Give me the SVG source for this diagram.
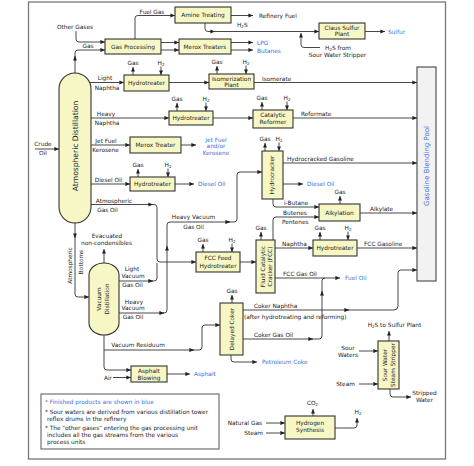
<svg xmlns="http://www.w3.org/2000/svg" width="474" height="466" viewBox="0 0 474 466">
<style>
text{font-family:"DejaVu Sans","Liberation Sans",sans-serif;font-size:5.8px;fill:#222}
.m{text-anchor:middle}
.e{text-anchor:end}
.bl{fill:#3b72d9}
.b{fill:#f7f7c6;stroke:#333;stroke-width:1.1}
.c{fill:none;stroke:#333;stroke-width:.9;marker-end:url(#ah)}
.n{fill:none;stroke:#333;stroke-width:.9}
.s{font-size:4px}
</style>
<defs>
<marker id="ah" viewBox="0 0 10 10" refX="10" refY="5" markerWidth="4.6" markerHeight="4.6" markerUnits="userSpaceOnUse" orient="auto"><path d="M0,0.5 L10,5 L0,9.5 z" fill="#222"/></marker>
</defs>
<rect width="474" height="466" fill="#fff"/>
<rect x="28.5" y="2" width="417" height="457" fill="none" stroke="#777" stroke-width="1.3"/>

<g id="connectors">
<path class="c" d="M35,149 H59"/>
<path class="c" d="M76,31 V39 Q76,42 79,42 H105"/>
<path class="c" d="M75,73 V56"/>
<path class="c" d="M75,58 V53 Q75,50 78,50 H105"/>
<path class="c" d="M135,39 V18 Q135,15.5 138,15.5 H175"/>
<path class="c" d="M161,42.5 H179"/>
<path class="c" d="M161,50 H179"/>
<path class="c" d="M231,15.5 H253"/>
<path class="c" d="M205,23 V28.5 Q205,31.5 208,31.5 H215"/>
<path class="c" d="M213,31.5 H319"/>
<path class="c" d="M320,47.5 H304 Q301,47.5 301,44.5 V33"/>
<path class="c" d="M365,31.5 H385"/>
<path class="c" d="M231,42.5 H253"/>
<path class="c" d="M231,50 H253"/>
<path class="c" d="M90,82.5 H124"/>
<path class="c" d="M169,82.5 H209"/>
<path class="c" d="M254,82.5 H417"/>
<path class="c" d="M91,118 H169"/>
<path class="c" d="M213,118 H253"/>
<path class="c" d="M293,118 H417"/>
<path class="c" d="M91,145 H130"/>
<path class="c" d="M181,145 H196"/>
<path class="c" d="M91,184 H130"/>
<path class="c" d="M175,184 H194"/>
<path class="c" d="M91,204.5 H153"/>
<path class="c" d="M151,204.5 H154 Q157,204.5 157,207.5 V259 Q157,262 160,262 H196"/>
<path class="c" d="M119,281 H153"/>
<path class="n" d="M151,281 H154 Q157,281 157,278 V263"/>
<path class="c" d="M119,313 H164"/>
<path class="c" d="M162,313 H164 Q167,313 167,310 V246"/>
<path class="c" d="M167,248 V225 Q167,222 170,222 H230"/>
<path class="c" d="M228,222 H234 Q237,222 237,219 V175 Q237,172 240,172 H262"/>
<path class="c" d="M75,223 V238"/>
<path class="c" d="M75,236 V294 Q75,297 78,297 H89"/>
<path class="c" d="M104,263 V249"/>
<path class="c" d="M104,335 V350 H194"/>
<path class="c" d="M192,350 H199 Q202,350 202,347 V328 Q202,325 205,325 H220"/>
<path class="c" d="M104,350 V367 Q104,370 107,370 H131"/>
<path class="c" d="M113,377.5 H131"/>
<path class="c" d="M167,374 H190"/>
<path class="c" d="M240,262 H256"/>
<path class="c" d="M283,163 H417"/>
<path class="c" d="M283,184 H303"/>
<path class="c" d="M273,199 V204 Q273,207 276,207 H319"/>
<path class="c" d="M273,240 V220 Q273,217 276,217 H319"/>
<path class="c" d="M360,213 H417"/>
<path class="c" d="M275,248 H313"/>
<path class="c" d="M357,248 H417"/>
<path class="c" d="M275,278 H340"/>
<path class="c" d="M243,310 H349"/>
<path class="c" d="M347,310 H394 Q398,310 398,306 V273 Q398,270 401,270 H417"/>
<path class="c" d="M243,339 H313"/>
<path class="c" d="M311,339 H319 Q322,339 322,336 V291"/>
<path class="n" d="M322,293 V281 Q322,278 325,278"/>
<path class="c" d="M231,355 V359 Q231,362 234,362 H257"/>
<path class="c" d="M359,351 H378"/>
<path class="c" d="M359,384 H378"/>
<path class="c" d="M389,341 V331"/>
<path class="c" d="M390,389 V394 Q390,397 393,397 H411"/>
<path class="c" d="M266,423 H285"/>
<path class="c" d="M266,433 H285"/>
<path class="c" d="M313,416 V409"/>
<path class="c" d="M335,428 H354 Q357,428 357,425 V418"/>
<!-- gas / H2 stubs -->
<path class="c" d="M133,75 V67"/><path class="c" d="M161,66.5 V75"/>
<path class="c" d="M217,74 V66"/><path class="c" d="M246,65.5 V74"/>
<path class="c" d="M177,111 V103"/><path class="c" d="M206,102.5 V111"/>
<path class="c" d="M262,110 V102"/><path class="c" d="M287,101.5 V110"/>
<path class="c" d="M138,177 V169"/><path class="c" d="M168,168.5 V177"/>
<path class="c" d="M265,151 V143"/><path class="c" d="M279,142.5 V151"/>
<path class="c" d="M203,252 V244"/><path class="c" d="M232,243.5 V252"/>
<path class="c" d="M261,240 V232"/>
<path class="c" d="M340,204 V196"/>
<path class="c" d="M320,240 V232"/><path class="c" d="M348,231.5 V240"/>
<path class="c" d="M232,303 V295"/>

<text class="m" x="133" y="64.5">Gas</text><text class="m" x="161" y="64.5">H<tspan class="s" dy="1.2">2</tspan></text>
<text class="m" x="217" y="63.5">Gas</text><text class="m" x="246" y="63.5">H<tspan class="s" dy="1.2">2</tspan></text>
<text class="m" x="177" y="100.5">Gas</text><text class="m" x="206" y="100.5">H<tspan class="s" dy="1.2">2</tspan></text>
<text class="m" x="262" y="99.5">Gas</text><text class="m" x="287" y="99.5">H<tspan class="s" dy="1.2">2</tspan></text>
<text class="m" x="138" y="166.5">Gas</text><text class="m" x="168" y="166.5">H<tspan class="s" dy="1.2">2</tspan></text>
<text class="m" x="265" y="140.5">Gas</text><text class="m" x="279" y="140.5">H<tspan class="s" dy="1.2">2</tspan></text>
<text class="m" x="203" y="241.5">Gas</text><text class="m" x="232" y="241.5">H<tspan class="s" dy="1.2">2</tspan></text>
<text class="m" x="261" y="229.5">Gas</text>
<text class="m" x="340" y="194">Gas</text>
<text class="m" x="320" y="229.5">Gas</text><text class="m" x="348" y="229.5">H<tspan class="s" dy="1.2">2</tspan></text>
<text class="m" x="232" y="292.5">Gas</text>

<text class="m" x="43" y="146">Crude</text>
<text class="m" x="43" y="155">Oil</text>
<text class="m" x="75" y="29">Other Gases</text>
<text class="m" x="88" y="48">Gas</text>
<text class="m" x="152" y="14">Fuel Gas</text>
<text x="259" y="18">Refinery Fuel</text>
<text x="237" y="27">H<tspan class="s" dy="1.2">2</tspan><tspan dy="-1.2">S</tspan></text>
<text class="m" x="338" y="50">H<tspan class="s" dy="1.2">2</tspan><tspan dy="-1.2">S from</tspan></text>
<text class="m" x="337.5" y="56.5">Sour Water Stripper</text>
<text class="bl" x="388" y="33.5">Sulfur</text>
<text class="bl" x="257" y="44.5">LPG</text>
<text class="bl" x="257" y="52.5">Butanes</text>
<text class="m" x="105" y="79.5">Light</text>
<text class="m" x="107" y="90">Naphtha</text>
<text x="262" y="81">Isomerate</text>
<text class="m" x="106" y="116">Heavy</text>
<text class="m" x="107" y="125">Naphtha</text>
<text x="301" y="116">Reformate</text>
<text class="m" x="106" y="143">Jet Fuel</text>
<text class="m" x="105.5" y="152">Kerosene</text>
<text class="m bl" x="216" y="141.5">Jet Fuel</text>
<text class="m bl" x="216" y="148">and/or</text>
<text class="m bl" x="216" y="154.5">Kerosene</text>
<text class="m" x="108.5" y="182">Diesel Oil</text>
<text class="bl" x="198" y="186">Diesel Oil</text>
<text class="m" x="114" y="203">Atmospheric</text>
<text class="m" x="107.5" y="212">Gas Oil</text>
<text class="m" x="193.5" y="219">Heavy Vacuum</text>
<text class="m" x="193.5" y="228.5">Gas Oil</text>
<text x="287" y="161">Hydrocracked Gasoline</text>
<text class="bl" x="307" y="186">Diesel Oil</text>
<text x="284" y="205">i-Butane</text>
<text x="283" y="215">Butenes</text>
<text x="282" y="223.5">Pentenes</text>
<text x="370" y="211">Alkylate</text>
<text x="282" y="246">Naphtha</text>
<text x="364" y="245.5">FCC Gasoline</text>
<text x="283" y="276">FCC Gas Oil</text>
<text class="bl" x="345" y="280">Fuel Oil</text>
<text x="254" y="308">Coker Naphtha</text>
<text x="244" y="319">(after hydrotreating and reforming)</text>
<text x="254" y="336.5">Coker Gas Oil</text>
<text class="bl" x="262" y="364">Petroleum Coke</text>
<text class="m" x="107" y="238">Evacuated</text>
<text class="m" x="106.5" y="245">non-condensibles</text>
<text class="m" x="132" y="271.3">Light</text>
<text class="m" x="133" y="277.5">Vacuum</text>
<text class="m" x="132.5" y="287">Gas Oil</text>
<text class="m" x="134" y="303.7">Heavy</text>
<text class="m" x="133" y="310.3">Vacuum</text>
<text class="m" x="133" y="319.3">Gas Oil</text>
<text class="m" transform="translate(72,265.5) rotate(-90)">Atmospheric</text>
<text class="m" transform="translate(83,262) rotate(-90)">Bottoms</text>
<text class="m" x="138" y="347">Vacuum Residuum</text>
<text x="104" y="379.5">Air</text>
<text class="bl" x="194" y="376">Asphalt</text>
<text class="m" x="348" y="350">Sour</text>
<text class="m" x="348" y="356.5">Waters</text>
<text class="m" x="345.5" y="386">Steam</text>
<text class="m" x="394.5" y="327">H<tspan class="s" dy="1.2">2</tspan><tspan dy="-1.2">S to Sulfur Plant</tspan></text>
<text class="m" x="424.5" y="395">Stripped</text>
<text class="m" x="424.5" y="402">Water</text>
<text class="e" x="262" y="425">Natural Gas</text>
<text class="e" x="263" y="435">Steam</text>
<text class="m" x="312.5" y="405">CO<tspan class="s" dy="1.2">2</tspan></text>
<text class="m" x="358" y="414">H<tspan class="s" dy="1.2">2</tspan></text>
</g>

<g id="amine"><rect class="b" x="175" y="7" width="56" height="16"/><text class="m" x="203" y="17">Amine Treating</text></g>
<g id="gasproc"><rect class="b" x="105" y="39" width="56" height="15"/><text class="m" x="133" y="48.5">Gas Processing</text></g>
<g id="merox1"><rect class="b" x="179" y="39" width="52" height="15"/><text class="m" x="205" y="48.5">Merox Treaters</text></g>
<g id="claus"><rect class="b" x="319" y="23" width="46" height="16"/><text class="m" x="342" y="29.5">Claus Sulfur</text><text class="m" x="342" y="36">Plant</text></g>
<g id="ht1"><rect class="b" x="124" y="75" width="45" height="16"/><text class="m" x="146.5" y="85">Hydrotreater</text></g>
<g id="isom"><rect class="b" x="209" y="74" width="45" height="15"/><text class="m" x="231.5" y="80.5">Isomerization</text><text class="m" x="231.5" y="87">Plant</text></g>
<g id="ht2"><rect class="b" x="169" y="111" width="44" height="14"/><text class="m" x="191" y="120">Hydrotreater</text></g>
<g id="reformer"><rect class="b" x="253" y="110" width="40" height="18"/><text class="m" x="273" y="117">Catalytic</text><text class="m" x="273" y="124">Reformer</text></g>
<g id="merox2"><rect class="b" x="130" y="137" width="51" height="16"/><text class="m" x="155.5" y="147">Merox Treater</text></g>
<g id="ht3"><rect class="b" x="130" y="177" width="45" height="14"/><text class="m" x="152.5" y="186">Hydrotreater</text></g>
<g id="atmdist"><rect class="b" x="59" y="73" width="32" height="150" rx="16" ry="16"/><text class="m" style="font-size:7.6px" transform="translate(78,146) rotate(-90)">Atmospheric Distillation</text></g>
<g id="vacdist"><rect class="b" x="89" y="263" width="30" height="72" rx="15" ry="12"/><text class="m" transform="translate(101,299) rotate(-90)">Vacuum</text><text class="m" transform="translate(108.5,299) rotate(-90)">Distillation</text></g>
<g id="fccfeed"><rect class="b" x="196" y="252" width="44" height="20"/><text class="m" x="218" y="260">FCC Feed</text><text class="m" x="218" y="268">Hydrotreater</text></g>
<g id="fcc"><rect class="b" x="256" y="240" width="19" height="53"/><text class="m" transform="translate(265,266.5) rotate(-90)">Fluid Catalytic</text><text class="m" transform="translate(272,266.5) rotate(-90)">Cracker (FCC)</text></g>
<g id="hydrocracker"><rect class="b" x="262" y="151" width="21" height="48"/><text class="m" transform="translate(274,175) rotate(-90)">Hydrocracker</text></g>
<g id="alky"><rect class="b" x="319" y="204" width="41" height="17"/><text class="m" x="339.5" y="214.5">Alkylation</text></g>
<g id="ht4"><rect class="b" x="313" y="240" width="44" height="16"/><text class="m" x="335" y="250">Hydrotreater</text></g>
<g id="pool"><rect x="417" y="67" width="19" height="214" fill="#f2f2f2" stroke="#444" stroke-width="1.1"/><text class="m bl" style="font-size:7px" transform="translate(428.5,166) rotate(-90)">Gasoline Blending Pool</text></g>
<g id="coker"><rect class="b" x="220" y="303" width="23" height="52"/><text class="m" transform="translate(233.5,329) rotate(-90)">Delayed Coker</text></g>
<g id="asphalt"><rect class="b" x="131" y="366" width="36" height="16"/><text class="m" x="149" y="373">Asphalt</text><text class="m" x="149" y="380">Blowing</text></g>
<g id="sws"><rect class="b" x="378" y="341" width="21" height="48"/><text class="m" transform="translate(387,365) rotate(-90)">Sour Water</text><text class="m" transform="translate(395,365) rotate(-90)">Steam Stripper</text></g>
<g id="h2syn"><rect class="b" x="285" y="416" width="50" height="23"/><text class="m" x="310" y="425">Hydrogen</text><text class="m" x="310" y="432">Synthesis</text></g>
<g id="notes"><rect x="41" y="394" width="178" height="55" fill="#fff" stroke="#555" stroke-width="1"/>
<text class="bl" x="45" y="403.5">* Finished products are shown in blue</text>
<text x="45" y="413.5">* Sour waters are derived from various distillation tower</text>
<text x="47" y="420.5">reflex drums in the refinery</text>
<text x="45" y="430">* The "other gases" entering the gas processing unit</text>
<text x="47" y="437">includes all the gas streams from the various</text>
<text x="47" y="444">process units</text>
</g>
</svg>
